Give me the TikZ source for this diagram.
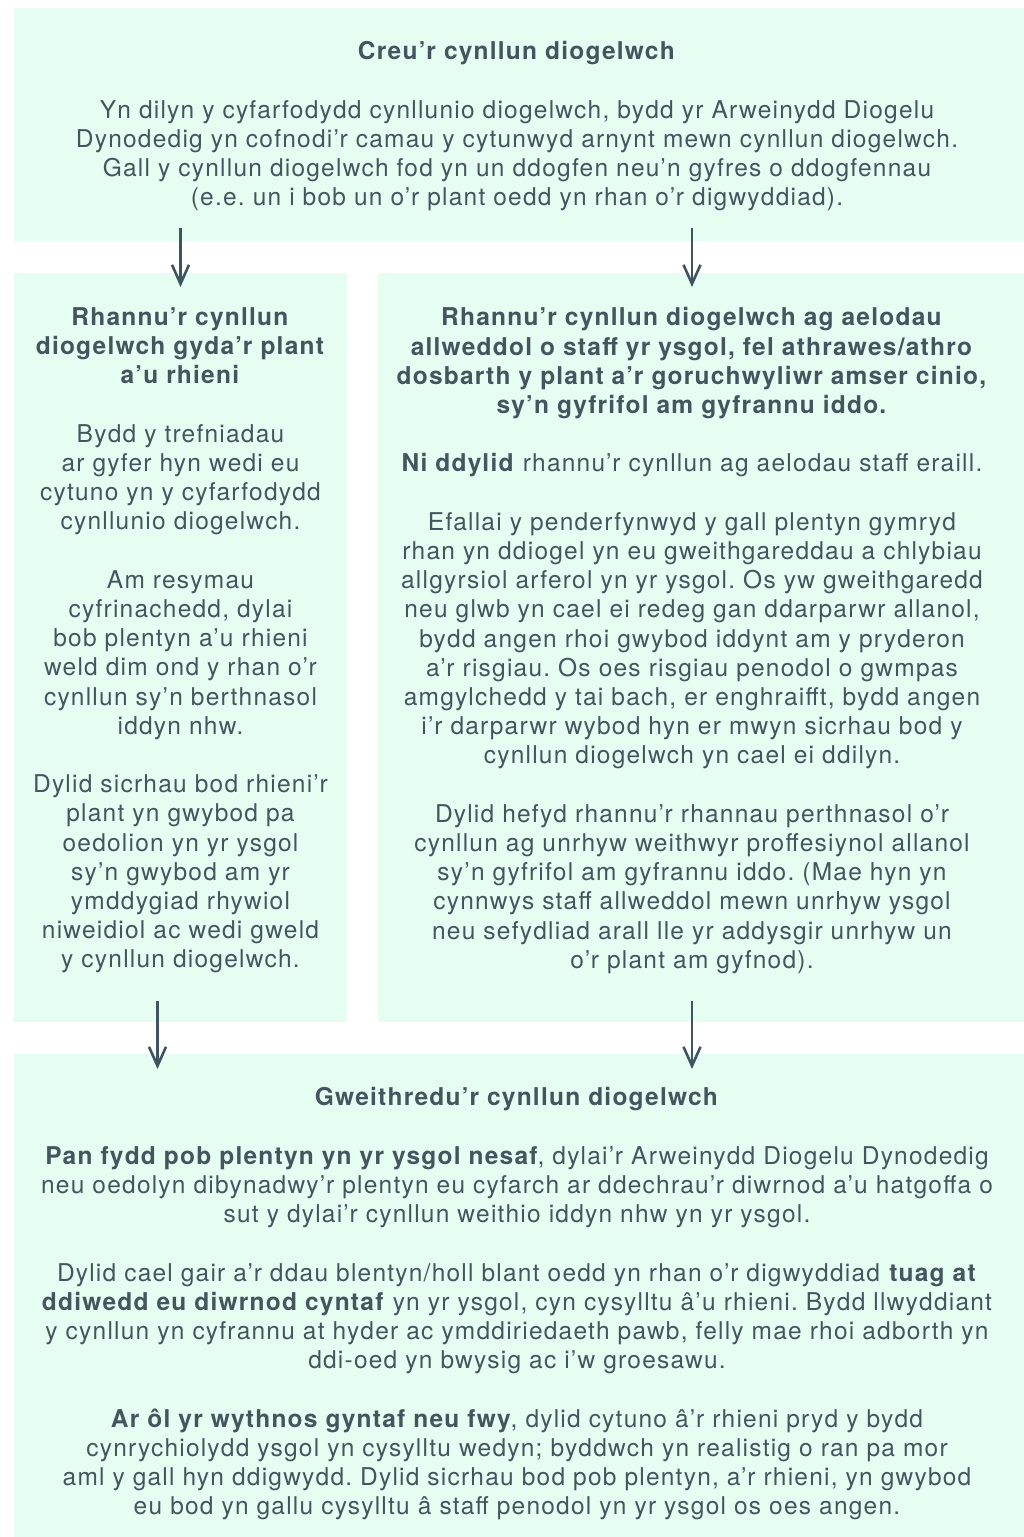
\documentclass[tikz,border=0pt]{standalone}
\usepackage{fontspec}
\setmainfont{TeX Gyre Heros}[LetterSpace=5]
\usetikzlibrary{arrows.meta}
\definecolor{boxfill}{HTML}{E6FEF1}
\definecolor{txt}{HTML}{44555F}
\definecolor{arr}{HTML}{3F5360}
\newcommand{\gap}{\\[29.2pt]}
\begin{document}
\frenchspacing
\begin{tikzpicture}[x=1pt,y=-1pt,
  box/.style={fill=boxfill, draw=none, inner sep=0pt, outer sep=0pt, anchor=north west},
  body/.style={text=txt, align=center, inner sep=0pt, anchor=north, font=\fontsize{24.5}{29.2}\selectfont},
  flow/.style={draw=arr, line width=2.6pt, -{Straight Barb[length=19pt,width=17pt]}}]
\useasboundingbox (0,0) rectangle (1024,1537);

\node[box, minimum width=1010pt, minimum height=233pt] (topbox) at (14,8) {};
\node[box, minimum width=333pt, minimum height=749pt] (leftbox) at (14,273) {};
\node[box, minimum width=646pt, minimum height=749pt] (rightbox) at (378,273) {};
\node[box, minimum width=1010pt, minimum height=483pt] (botbox) at (14,1054) {};

\node[body] (toptext) at (517,41.5) {%
\textbf{Creu’r cynllun diogelwch}\gap
Yn dilyn y cyfarfodydd cynllunio diogelwch, bydd yr Arweinydd Diogelu\\
Dynodedig yn cofnodi’r camau y cytunwyd arnynt mewn cynllun diogelwch.\\
Gall y cynllun diogelwch fod yn un ddogfen neu’n gyfres o ddogfennau\\
(e.e. un i bob un o’r plant oedd yn rhan o’r digwyddiad).};

\node[body] (lefttext) at (180.5,307.5) {%
\textbf{Rhannu’r cynllun}\\
\textbf{diogelwch gyda’r plant}\\
\textbf{a’u rhieni}\gap
Bydd y trefniadau\\
ar gyfer hyn wedi eu\\
cytuno yn y cyfarfodydd\\
cynllunio diogelwch.\gap
Am resymau\\
cyfrinachedd, dylai\\
bob plentyn a’u rhieni\\
weld dim ond y rhan o’r\\
cynllun sy’n berthnasol\\
iddyn nhw.\gap
Dylid sicrhau bod rhieni’r\\
plant yn gwybod pa\\
oedolion yn yr ysgol\\
sy’n gwybod am yr\\
ymddygiad rhywiol\\
niweidiol ac wedi gweld\\
y cynllun diogelwch.};

\node[body] (righttext) at (692,307.5) {%
\textbf{Rhannu’r cynllun diogelwch ag aelodau}\\
\textbf{allweddol o staff yr ysgol, fel athrawes/athro}\\
\textbf{dosbarth y plant a’r goruchwyliwr amser cinio,}\\
\textbf{sy’n gyfrifol am gyfrannu iddo.}\gap
\textbf{Ni ddylid} rhannu’r cynllun ag aelodau staff eraill.\gap
Efallai y penderfynwyd y gall plentyn gymryd\\
rhan yn ddiogel yn eu gweithgareddau a chlybiau\\
allgyrsiol arferol yn yr ysgol. Os yw gweithgaredd\\
neu glwb yn cael ei redeg gan ddarparwr allanol,\\
bydd angen rhoi gwybod iddynt am y pryderon\\
a’r risgiau. Os oes risgiau penodol o gwmpas\\
amgylchedd y tai bach, er enghraifft, bydd angen\\
i’r darparwr wybod hyn er mwyn sicrhau bod y\\
cynllun diogelwch yn cael ei ddilyn.\gap
Dylid hefyd rhannu’r rhannau perthnasol o’r\\
cynllun ag unrhyw weithwyr proffesiynol allanol\\
sy’n gyfrifol am gyfrannu iddo. (Mae hyn yn\\
cynnwys staff allweddol mewn unrhyw ysgol\\
neu sefydliad arall lle yr addysgir unrhyw un\\
o’r plant am gyfnod).};

\node[body] (bottext) at (517,1087.5) {%
\textbf{Gweithredu’r cynllun diogelwch}\gap
\textbf{Pan fydd pob plentyn yn yr ysgol nesaf}, dylai’r Arweinydd Diogelu Dynodedig\\
neu oedolyn dibynadwy’r plentyn eu cyfarch ar ddechrau’r diwrnod a’u hatgoffa o\\
sut y dylai’r cynllun weithio iddyn nhw yn yr ysgol.\gap
Dylid cael gair a’r ddau blentyn/holl blant oedd yn rhan o’r digwyddiad \textbf{tuag at}\\
\textbf{ddiwedd eu diwrnod cyntaf} yn yr ysgol, cyn cysylltu â’u rhieni. Bydd llwyddiant\\
y cynllun yn cyfrannu at hyder ac ymddiriedaeth pawb, felly mae rhoi adborth yn\\
ddi-oed yn bwysig ac i’w groesawu.\gap
\textbf{Ar ôl yr wythnos gyntaf neu fwy}, dylid cytuno â’r rhieni pryd y bydd\\
cynrychiolydd ysgol yn cysylltu wedyn; byddwch yn realistig o ran pa mor\\
aml y gall hyn ddigwydd. Dylid sicrhau bod pob plentyn, a’r rhieni, yn gwybod\\
eu bod yn gallu cysylltu â staff penodol yn yr ysgol os oes angen.};

\draw[flow] ([yshift=13pt]topbox.south -| lefttext.north) -- ([yshift=-14pt]leftbox.north -| lefttext.north);
\draw[flow] ([yshift=13pt]topbox.south -| righttext.north) -- ([yshift=-14pt]rightbox.north -| righttext.north);
\draw[flow] ([yshift=21pt]leftbox.south -| 157.5,0) -- ([yshift=-15pt]botbox.north -| 157.5,0);
\draw[flow] ([yshift=21pt]rightbox.south -| righttext.north) -- ([yshift=-15pt]botbox.north -| righttext.north);
\end{tikzpicture}
\end{document}
